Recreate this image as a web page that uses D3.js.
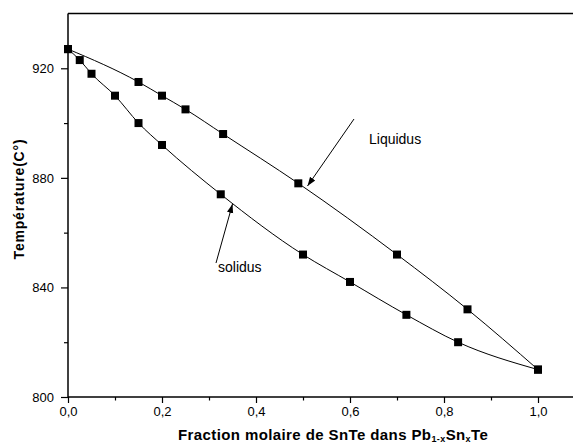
<!DOCTYPE html>
<html><head><meta charset="utf-8">
<script src="https://cdn.jsdelivr.net/npm/d3@7"></script>
<style>body{margin:0;background:#fff}svg{display:block;font-family:Arial,"Liberation Sans",sans-serif}</style>
</head><body>
<svg id="c" width="573" height="443"></svg>
<script>
const liquidusX = [0, 0.15, 0.2, 0.25, 0.33, 0.49, 0.7, 0.85, 1.0];
const liquidusT = [927, 915, 910, 905, 896, 878, 852, 832, 810];
const solidusX = [0, 0.025, 0.05, 0.1, 0.15, 0.2, 0.325, 0.5, 0.6, 0.72, 0.83, 1.0];
const solidusT = [927, 923, 918, 910, 900, 892, 874, 852, 842, 830, 820, 810];
const xMajor = [0, 0.2, 0.4, 0.6, 0.8, 1.0];
const xMinor = [0.1, 0.3, 0.5, 0.7, 0.9];
const yMajor = [800, 840, 880, 920];
const yMinor = [820, 860, 900];

const svg = d3.select("#c");
const L = 68, R = 573, T = 13.5, B = 397;
const x = d3.scaleLinear().domain([0, 1]).range([L, 538]);
const y = d3.scaleLinear().domain([800, 940]).range([B, T]);
const fmt = d => d3.format(".1f")(d).replace(".", ",");

// axes frame
svg.append("line").attr("x1", L).attr("x2", R).attr("y1", T).attr("y2", T).attr("stroke", "#000").attr("stroke-width", 1.5);
svg.append("line").attr("x1", L).attr("x2", R).attr("y1", B).attr("y2", B).attr("stroke", "#000").attr("stroke-width", 1.5);
svg.append("line").attr("x1", L).attr("x2", L).attr("y1", T).attr("y2", B).attr("stroke", "#000").attr("stroke-width", 1.5);

// x axis
const xa = svg.append("g").attr("transform", `translate(0,${B})`)
  .call(d3.axisBottom(x).tickValues(xMajor).tickSize(6).tickSizeOuter(0).tickPadding(4).tickFormat(fmt));
xa.select(".domain").remove();
xa.selectAll("text").attr("font-size", 13).attr("font-family", "Arial, Liberation Sans, sans-serif").attr("fill", "#000");
xa.selectAll("line").attr("stroke-width", 1.2);
const xm = svg.append("g").attr("transform", `translate(0,${B})`)
  .call(d3.axisBottom(x).tickValues(xMinor).tickSize(3.5).tickSizeOuter(0).tickFormat(""));
xm.select(".domain").remove();
xm.selectAll("line").attr("stroke-width", 1.2);

// y axis
const ya = svg.append("g").attr("transform", `translate(${L},0)`)
  .call(d3.axisLeft(y).tickValues(yMajor).tickSize(7).tickSizeOuter(0).tickPadding(7).tickFormat(d3.format("d")));
ya.select(".domain").remove();
ya.selectAll("text").attr("font-size", 13).attr("font-family", "Arial, Liberation Sans, sans-serif").attr("fill", "#000");
ya.selectAll("line").attr("stroke-width", 1.2);
const ym = svg.append("g").attr("transform", `translate(${L},0)`)
  .call(d3.axisLeft(y).tickValues(yMinor).tickSize(4).tickSizeOuter(0).tickFormat(""));
ym.select(".domain").remove();
ym.selectAll("line").attr("stroke-width", 1.2);

// curves
const liq = liquidusX.map((v, i) => [v, liquidusT[i]]);
const sol = solidusX.map((v, i) => [v, solidusT[i]]);
const line = d3.line().x(d => x(d[0])).y(d => y(d[1])).curve(d3.curveMonotoneX);
[liq, sol].forEach(data => {
  svg.append("path").attr("d", line(data)).attr("fill", "none").attr("stroke", "#000").attr("stroke-width", 1);
  svg.append("g").selectAll("rect").data(data).join("rect")
    .attr("x", d => x(d[0]) - 4).attr("y", d => y(d[1]) - 4)
    .attr("width", 8).attr("height", 8).attr("fill", "#000");
});

// arrows
svg.append("defs").append("marker").attr("id", "ah").attr("viewBox", "0 0 10 10")
  .attr("refX", 10).attr("refY", 5).attr("markerWidth", 9).attr("markerHeight", 9)
  .attr("markerUnits", "userSpaceOnUse").attr("orient", "auto")
  .append("path").attr("d", "M0,1.5 L10,5 L0,8.5 Z").attr("fill", "#000");
svg.append("line").attr("x1", 354).attr("y1", 119).attr("x2", 307.5).attr("y2", 186)
  .attr("stroke", "#000").attr("stroke-width", 1).attr("marker-end", "url(#ah)");
svg.append("line").attr("x1", 216).attr("y1", 263).attr("x2", 232.5).attr("y2", 204)
  .attr("stroke", "#000").attr("stroke-width", 1).attr("marker-end", "url(#ah)");

svg.append("text").attr("x", 369).attr("y", 144).attr("font-size", 14).text("Liquidus");
svg.append("text").attr("x", 218).attr("y", 271.5).attr("font-size", 14).text("solidus");

// axis titles
svg.append("text").attr("transform", "translate(24,199) rotate(-90)").attr("text-anchor", "middle")
  .attr("font-size", 14).attr("font-weight", "bold").attr("letter-spacing", 0.8).text("Température(C°)");
const xt = svg.append("text").attr("x", 178).attr("y", 440).attr("font-size", 15).attr("font-weight", "bold").attr("letter-spacing", 0.4);
xt.append("tspan").text("Fraction molaire de SnTe dans Pb");
xt.append("tspan").attr("font-size", 9).attr("dy", 2).text("1-x");
xt.append("tspan").attr("dy", -2).text("Sn");
xt.append("tspan").attr("font-size", 9).attr("dy", 2).text("x");
xt.append("tspan").attr("dy", -2).text("Te");
</script>
</body></html>
